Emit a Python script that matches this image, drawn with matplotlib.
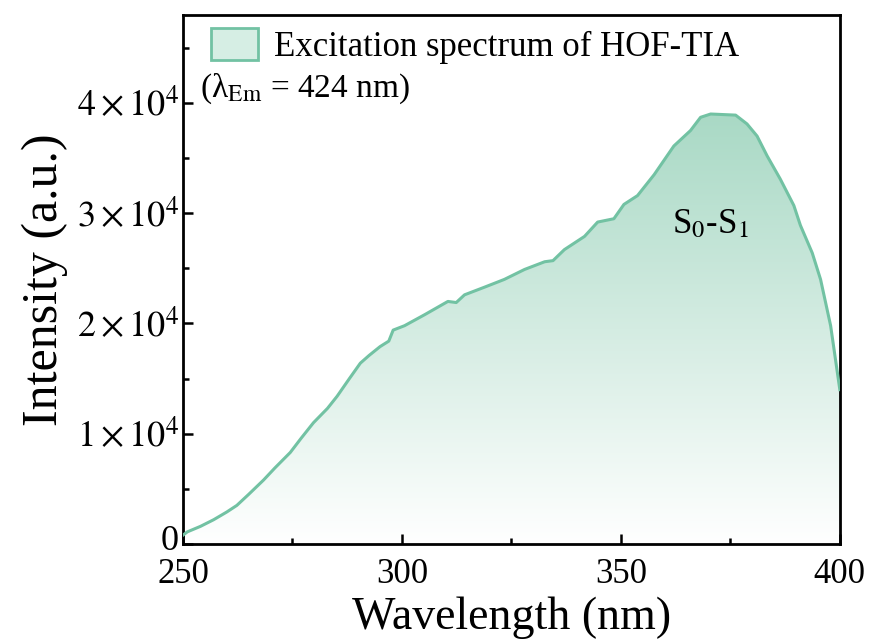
import numpy as np
import matplotlib
matplotlib.use("Agg")
import matplotlib.pyplot as plt
from matplotlib.colors import LinearSegmentedColormap
from matplotlib.patches import Polygon, Patch
from matplotlib.ticker import FuncFormatter, MultipleLocator
from matplotlib.transforms import ScaledTranslation

# -------- data --------
wavelength = [250, 251, 254, 257, 260, 262.3, 265, 268.4, 271, 274.5, 277, 279.8,
              283, 285.2, 288, 290.5, 292.5, 295, 297, 298,
              300.6, 305.2, 310.5, 312.4, 314.3, 318.9, 323.4, 328, 332.6, 334.5,
              337.1, 341.7, 344.7, 348.4, 350.7, 353.8, 357.6, 362.1, 365.9, 368.2,
              370.5, 376.2, 378.8, 381.1, 383.4, 386.4, 389.5, 391, 393.7, 395.6,
              397.9, 400]
intensity = [800, 1100, 1600, 2200, 2900, 3500, 4500, 5800, 6900, 8300, 9600, 11000,
             12300, 13400, 15000, 16400, 17100, 17900, 18400, 19400,
             19800, 20800, 22000, 21900, 22600, 23300, 24000, 24900, 25600, 25700,
             26700, 27900, 29200, 29500, 30800, 31600, 33500, 36100, 37500, 38700,
             39000, 38900, 38100, 37000, 35200, 33100, 30700, 28900, 26400, 24000,
             19800, 14000]
series_label = "Excitation spectrum of HOF-TIA"
note_label = r"(λ$_{\rm Em}$ = 424 nm)"
peak_label = r"S$_0$-S$_1$"

line_color = "#72c2a3"
fill_top = "#a9d9c5"

plt.rcParams["font.family"] = ["Liberation Serif", "DejaVu Serif"]
plt.rcParams["mathtext.fontset"] = "stix"

fig = plt.figure(figsize=(8.73, 6.43), dpi=100)
ax = fig.add_axes([0.2096, 0.154, 0.7524, 0.823])

# gradient fill under the curve
grad = np.linspace(0, 1, 256).reshape(-1, 1)
cmap = LinearSegmentedColormap.from_list("g", ["#ffffff", fill_top])
im = ax.imshow(grad, extent=[wavelength[0], wavelength[-1], 0, max(intensity)],
               origin="lower", aspect="auto", cmap=cmap, zorder=1)
verts = [(wavelength[0], 0)] + list(zip(wavelength, intensity)) + [(wavelength[-1], 0)]
poly = Polygon(verts, closed=True, facecolor="none", edgecolor="none")
ax.add_patch(poly)
im.set_clip_path(poly)

ax.plot(wavelength, intensity, color=line_color, lw=2.2, zorder=3)

ax.set_xlim(250, 400)
ax.set_ylim(0, 48000)

# ticks
ax.xaxis.set_major_locator(MultipleLocator(50))
ax.xaxis.set_minor_locator(MultipleLocator(25))
ax.yaxis.set_major_locator(MultipleLocator(10000))
ax.yaxis.set_minor_locator(MultipleLocator(5000))


def sci_fmt(v, pos):
    if v == 0:
        return "0"
    return r"$%d\times10^{4}$" % round(v / 1e4)


ax.yaxis.set_major_formatter(FuncFormatter(sci_fmt))
ax.tick_params(which="both", direction="in", top=False, right=False, width=1.8)
ax.tick_params(which="major", length=7)
ax.tick_params(which="minor", length=4)
ax.tick_params(axis="y", pad=3, labelsize=26)
ax.tick_params(axis="x", pad=10, labelsize=25)
for s in ax.spines.values():
    s.set_linewidth(2)

# nudge the "0" label up a little so it does not sit on top of "250"
fig.canvas.draw()
for loc, tick in zip(ax.yaxis.get_majorticklocs(), ax.yaxis.get_major_ticks()):
    if loc == 0:
        lbl = tick.label1
        lbl.set_transform(lbl.get_transform() + ScaledTranslation(0, 5 / 72, fig.dpi_scale_trans))

ax.set_xlabel("Wavelength (nm)", fontsize=33, labelpad=4)
ax.set_ylabel("Intensity (a.u.)", fontsize=36, labelpad=6)

# legend + notes
handle = Patch(facecolor="#d6eee4", edgecolor=line_color, lw=2)
ax.legend([handle], [series_label], loc="upper left", bbox_to_anchor=(0.043, 0.975),
          frameon=False, fontsize=25, borderaxespad=0, borderpad=0,
          handlelength=1.35, handleheight=1.05, handletextpad=0.45)
ax.text(0.026, 0.86, note_label, transform=ax.transAxes, fontsize=24,
        ha="left", va="center")
ax.text(370.5, 29000, peak_label, fontsize=25, ha="center", va="center", zorder=4)

fig.savefig("out.png", dpi=100)
